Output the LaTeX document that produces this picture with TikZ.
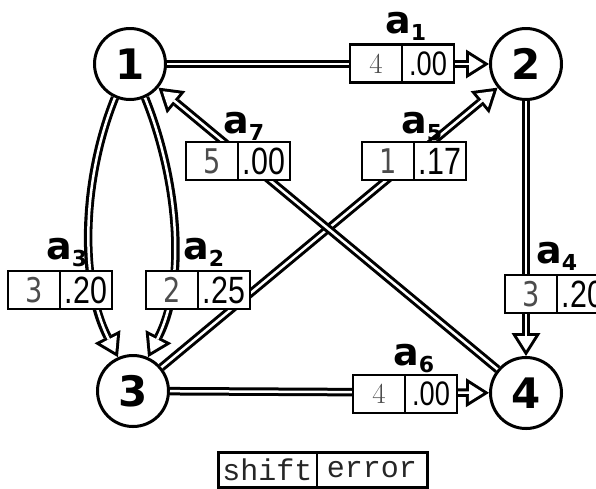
\documentclass[tikz,border=0pt]{standalone}
\usepackage{fontspec}
\usetikzlibrary{arrows.meta}
\newfontfamily\dvs{DejaVu Sans}
\newfontfamily\lbs[FakeStretch=0.8]{Liberation Sans}
\newfontfamily\dvn[FakeStretch=0.8]{DejaVu Sans}
\newfontfamily\lbm{Liberation Mono}

% arc label: bold "a" with a bold subscript
\newcommand\elab[1]{{\dvs\bfseries\fontsize{38}{38}\selectfont a}\raisebox{-7pt}{\dvs\bfseries\fontsize{22}{22}\selectfont #1}}

% two-cell box placed on an arc: name, divider x, centre y, left style, left text, right style, right text
\newcommand\flowbox[7]{%
  \node[cell, #4, anchor=east] (#1l) at (#2,#3) {#5};
  \node[cell, #6, anchor=west] (#1r) at (#2,#3) {#7};
}

\tikzset{
  x=1pt, y=1pt,
  vertex/.style={circle, draw, line width=3pt, minimum size=71pt, inner sep=0pt,
    fill=white, font=\dvs\bfseries\fontsize{42}{42}\selectfont},
  flow/.style={line width=8.5pt,
    -{Triangle[length=23pt,width=29pt,line width=0pt]},
    postaction={draw=white, line width=2.5pt, shorten >=5.6pt,
      -{Triangle[length=14.4pt,width=18.1pt,line width=0pt]}}},
  cell/.style={draw, fill=white, line width=2.5pt, minimum width=52pt,
    minimum height=38pt, inner sep=0pt, outer sep=0pt},
  lnum/.style={font=\dvn\fontsize{34}{34}\selectfont, text=black!70},
  rnum/.style={font=\lbs\fontsize{38}{38}\selectfont},
  lnumsm/.style={font=\fontsize{29}{29}\selectfont, text=black!70},
  rnumsm/.style={font=\lbs\fontsize{34}{34}\selectfont},
  mcell/.style={draw, fill=white, line width=1.5pt, minimum height=35pt,
    inner sep=0pt, outer sep=0pt, font=\lbm\fontsize{30}{30}\selectfont, text=black!85},
}

\begin{document}
\begin{tikzpicture}
\clip (0,0) rectangle (596,-488);

% vertices
\node[vertex] (n1) at (130,-64) {1};
\node[vertex] (n2) at (526,-64) {2};
\node[vertex] (n3) at (133,-391) {3};
\node[vertex] (n4) at (526,-393) {4};

% arcs
\draw[flow] (n1) -- (n2);
\draw[flow] (n3) -- (n4);
\draw[flow] (n2) -- (n4);
\draw[flow] (n3) -- (n2);
\draw[flow] (n4) -- (n1);
\draw[flow] (n1.246) to[out=248,in=117,looseness=0.85] (n3.114);
\draw[flow] (n1.294) to[out=292,in=63,looseness=0.85] (n3.66);

% shift / error boxes on the arcs
\flowbox{b1}{402}{-63.5}{lnumsm}{4}{rnumsm}{.00}
\flowbox{b6}{405}{-394}{lnumsm}{4}{rnumsm}{.00}
\flowbox{b7}{238}{-161}{lnum}{5}{rnum}{.00}
\flowbox{b5}{414}{-161}{lnum}{1}{rnum}{.17}
\flowbox{b3}{60}{-290}{lnum}{3}{rnum}{.20}
\flowbox{b2}{198}{-290}{lnum}{2}{rnum}{.25}
\flowbox{b4}{557}{-294}{lnum}{3}{rnum}{.20}

% arc names
\node[anchor=base west, inner sep=0pt] (l1) at (385,-33) {\elab{1}};
\node[anchor=base west, inner sep=0pt] (l6) at (393,-365) {\elab{6}};
\node[anchor=base west, inner sep=0pt] (l7) at (223,-133) {\elab{7}};
\node[anchor=base west, inner sep=0pt] (l5) at (401,-133) {\elab{5}};
\node[anchor=base west, inner sep=0pt] (l3) at (46,-259) {\elab{3}};
\node[anchor=base west, inner sep=0pt] (l2) at (183,-259) {\elab{2}};
\node[anchor=base west, inner sep=0pt] (l4) at (536,-263) {\elab{4}};

% legend
\node[mcell, minimum width=99pt, anchor=east] (shift) at (317,-469.5) {shift};
\node[mcell, minimum width=110pt, anchor=west] (error) at (317,-469.5) {error};
\draw[line width=3pt] (shift.north west) rectangle (error.south east);
\end{tikzpicture}
\end{document}
